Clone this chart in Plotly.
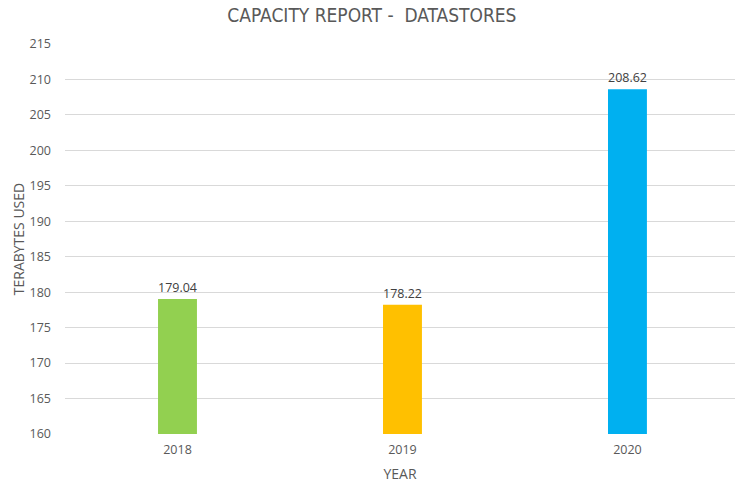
import plotly.graph_objects as go

years = ["2018", "2019", "2020"]
terabytes = [179.04, 178.22, 208.62]
bar_colors = ["#92D050", "#FFC000", "#00B0F0"]
y_ticks = [160, 165, 170, 175, 180, 185, 190, 195, 200, 205, 210, 215]

FONT = "Open Sans, Liberation Sans, sans-serif"
TITLE_FONT = "Liberation Sans Narrow, DejaVu Sans Condensed, Open Sans, sans-serif"

fig = go.Figure(
    go.Bar(
        x=years,
        y=terabytes,
        marker=dict(color=bar_colors, line=dict(width=0)),
        width=0.173,
        text=[f"{v:.2f}" for v in terabytes],
        textposition="outside",
        textfont=dict(family=FONT, size=12.5, color="#404040"),
        cliponaxis=False,
    )
)

fig.update_layout(
    width=735,
    height=484,
    paper_bgcolor="white",
    plot_bgcolor="white",
    margin=dict(l=65, r=0, t=44, b=50, autoexpand=False),
    showlegend=False,
    title=dict(
        text="CAPACITY REPORT -  DATASTORES",
        x=0.506,
        xanchor="center",
        y=0.968,
        yanchor="middle",
        font=dict(family=TITLE_FONT, size=19, color="#595959"),
    ),
    font=dict(family=FONT, color="#595959"),
)

fig.update_xaxes(
    type="category",
    range=[-0.5, 2.478],
    automargin=False,
    showgrid=False,
    showline=False,
    ticks="",
    tickfont=dict(size=12.5, color="#595959"),
    ticklabelstandoff=6,
    title=dict(text="YEAR", font=dict(size=14, color="#595959"), standoff=12),
)

fig.update_yaxes(
    range=[160, 215],
    tickvals=y_ticks,
    automargin=False,
    showgrid=True,
    gridcolor="#D9D9D9",
    gridwidth=1,
    zeroline=False,
    showline=False,
    ticks="",
    tickfont=dict(size=12.5, color="#595959"),
    ticklabelstandoff=13,
    title=dict(text="TERABYTES USED", font=dict(size=14, color="#595959"), standoff=1),
)

# remove the browser's default 8px body margin so the figure sits at the window's corner
fig.write_html(
    "out.html",
    config={"displayModeBar": False},
    post_script="document.body.style.margin='0';",
)
